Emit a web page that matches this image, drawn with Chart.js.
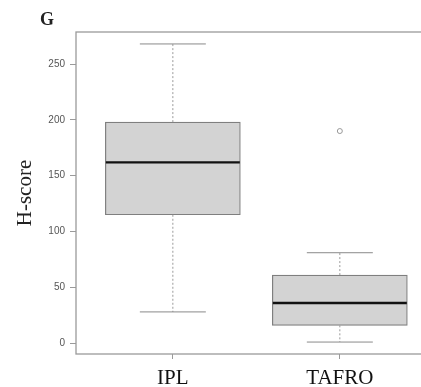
<!DOCTYPE html>
<html>
<head>
<meta charset="utf-8">
<script src="https://cdn.jsdelivr.net/npm/chart.js@4/dist/chart.umd.min.js"></script>
<style>
  html, body { margin: 0; padding: 0; background: #fff; overflow: hidden; }
  #wrap { position: relative; width: 440px; height: 387px; }
</style>
</head>
<body>
<div id="wrap"><canvas id="chartHScore"></canvas></div>
<script>
// values
const groups = ['IPL', 'TAFRO']
const q1 = [115, 16]
const median = [162, 36]
const q3 = [198, 61]
const whiskerLow = [28, 1]
const whiskerHigh = [268, 81]
const outlierGroup = [2]
const outlierValue = [190]
const yTicks = [0, 50, 100, 150, 200, 250]

const frameColor = '#9a9a9a'
const boxBorder = '#7f7f7f'

const boxplotExtras = {
  id: 'boxplotExtras',
  beforeDraw(chart) {
    const ctx = chart.ctx
    ctx.save()
    ctx.fillStyle = '#fff'
    ctx.fillRect(0, 0, chart.width, chart.height)
    ctx.fillStyle = '#222'
    ctx.font = 'bold 18px "Liberation Serif", serif'
    ctx.fillText('G', 40, 25)
    ctx.restore()
  },
  beforeDatasetsDraw(chart) {
    const { ctx, chartArea } = chart
    ctx.save()
    ctx.strokeStyle = frameColor
    ctx.lineWidth = 1.3
    ctx.strokeRect(chartArea.left, chartArea.top, chartArea.right - chartArea.left, chartArea.bottom - chartArea.top)
    ctx.restore()
  },
  afterDatasetsDraw(chart) {
    const { ctx, scales: { x, y } } = chart
    const line = (x1, y1, x2, y2) => {
      ctx.beginPath()
      ctx.moveTo(x1, y1)
      ctx.lineTo(x2, y2)
      ctx.stroke()
    }
    groups.forEach((g, i) => {
      const cx = x.getPixelForValue(i + 1)
      ctx.save()
      ctx.strokeStyle = '#9a9a9a'
      ctx.lineWidth = 1
      ctx.setLineDash([2, 2])
      line(cx, y.getPixelForValue(q3[i]), cx, y.getPixelForValue(whiskerHigh[i]))
      line(cx, y.getPixelForValue(q1[i]), cx, y.getPixelForValue(whiskerLow[i]))
      ctx.setLineDash([])
      ctx.strokeStyle = '#8a8a8a'
      line(cx - 33, y.getPixelForValue(whiskerHigh[i]), cx + 33, y.getPixelForValue(whiskerHigh[i]))
      line(cx - 33, y.getPixelForValue(whiskerLow[i]), cx + 33, y.getPixelForValue(whiskerLow[i]))
      ctx.strokeStyle = '#111'
      ctx.lineWidth = 2.3
      line(cx - 67, y.getPixelForValue(median[i]), cx + 67, y.getPixelForValue(median[i]))
      ctx.restore()
    })
  }
}

const ctx = document.getElementById('chartHScore').getContext('2d')
const config = {
  type: 'bar',
  data: {
    datasets: [{
      label: 'box',
      data: groups.map((g, i) => ({ x: i + 1, y: [q1[i], q3[i]] })),
      backgroundColor: '#d3d3d3',
      borderColor: boxBorder,
      borderWidth: 1.2,
      borderSkipped: false,
      barThickness: 135
    }, {
      type: 'scatter',
      label: 'outliers',
      data: outlierGroup.map((g, i) => ({ x: g, y: outlierValue[i] })),
      pointRadius: 2.5,
      pointBorderWidth: 1,
      borderColor: '#999',
      backgroundColor: 'rgba(0,0,0,0)'
    }]
  },
  options: {
    responsive: true,
    maintainAspectRatio: false,
    animation: false,
    layout: { padding: { top: 32, right: 10, bottom: 0, left: 0 } },
    plugins: {
      legend: { display: false },
      tooltip: { enabled: false }
    },
    scales: {
      x: {
        type: 'linear',
        min: 0.42,
        max: 2.54,
        offset: false,
        afterBuildTicks: scale => { scale.ticks = groups.map((g, i) => ({ value: i + 1 })) },
        afterFit: scale => { scale.height = 33 },
        border: { display: false },
        grid: { offset: false, drawOnChartArea: false, drawTicks: true, tickLength: 5, color: frameColor },
        ticks: {
          callback: v => groups[v - 1] || '',
          color: '#111',
          padding: 7,
          maxRotation: 0,
          font: { family: '"Liberation Serif", serif', size: 21 }
        }
      },
      y: {
        min: -9.7,
        max: 278.7,
        afterBuildTicks: scale => { scale.ticks = yTicks.map(v => ({ value: v })) },
        afterFit: scale => { scale.width = 76 },
        border: { display: false },
        grid: { drawOnChartArea: false, drawTicks: true, tickLength: 6, color: frameColor },
        ticks: {
          color: '#555',
          padding: 5,
          font: { family: '"Liberation Sans", Arial, sans-serif', size: 10 }
        },
        title: {
          display: true,
          text: 'H-score',
          color: '#222',
          padding: { top: 13, bottom: 0 },
          font: { family: '"Liberation Serif", serif', size: 21 }
        }
      }
    }
  },
  plugins: [boxplotExtras]
}
const hScoreChart = new Chart(ctx, config)
</script>
</body>
</html>
